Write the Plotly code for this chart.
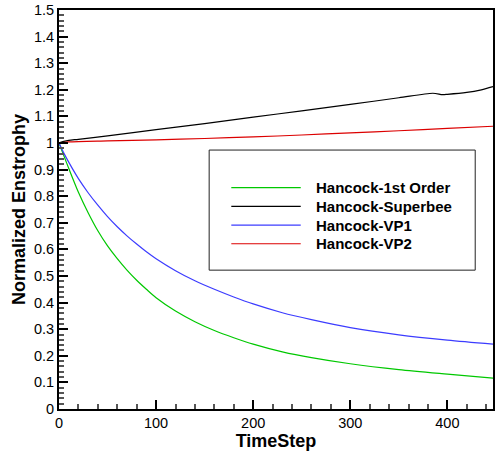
import plotly.graph_objects as go

# ---- data ----
t_decay = [0, 5, 10, 20, 30, 40, 50, 60, 70, 80, 90, 100, 120, 140, 160, 180, 200,
           230, 260, 300, 350, 400, 447]
first_order = [1.0, 0.952, 0.905, 0.815, 0.738, 0.67, 0.613, 0.565, 0.522, 0.484, 0.45, 0.418,
               0.368, 0.328, 0.295, 0.268, 0.244, 0.215, 0.193, 0.17, 0.148, 0.131, 0.116]
vp1 = [1.0, 0.962, 0.928, 0.866, 0.813, 0.766, 0.723, 0.685, 0.651, 0.62, 0.591, 0.565,
       0.52, 0.482, 0.45, 0.421, 0.395, 0.362, 0.336, 0.306, 0.279, 0.259, 0.244]

t_sb = [0, 5, 10, 20, 50, 100, 150, 200, 250, 300, 350, 385, 395, 400, 420, 435, 447]
superbee = [1.0, 1.006, 1.01, 1.014, 1.027, 1.05, 1.073, 1.097, 1.121, 1.145, 1.170, 1.187,
            1.182, 1.183, 1.19, 1.2, 1.212]

t_vp2 = [0, 10, 50, 100, 150, 200, 250, 300, 350, 400, 447]
vp2 = [1.0, 1.004, 1.008, 1.012, 1.017, 1.023, 1.03, 1.038, 1.046, 1.055, 1.063]

names = ["Hancock-1st Order", "Hancock-Superbee", "Hancock-VP1", "Hancock-VP2"]
colors = ["#00c800", "#000000", "#3c3cff", "#dc0000"]

fig = go.Figure()
series = [(t_decay, first_order), (t_sb, superbee), (t_decay, vp1), (t_vp2, vp2)]
for (x, y), n, c in zip(series, names, colors):
    fig.add_trace(go.Scatter(x=x, y=y, mode="lines", name=n, showlegend=False,
                             line=dict(color=c, width=1.2, shape="spline", smoothing=0.8)))

font_fam = "Liberation Sans, Arial, sans-serif"
axis_common = dict(
    showline=True, linecolor="black", linewidth=2, mirror=True,
    ticks="inside", ticklen=9, tickwidth=2, tickcolor="black",
    showgrid=False, zeroline=False,
    tickfont=dict(family=font_fam, size=14.5, color="black"),
)

fig.update_xaxes(range=[0, 447], dtick=100, tick0=0,
                 minor=dict(ticks="inside", dtick=20, ticklen=5, tickwidth=1.5, tickcolor="#555"),
                 title=dict(text="TimeStep", standoff=0,
                            font=dict(family=font_fam, size=18, color="black", weight="bold")),
                 **axis_common)
fig.update_yaxes(range=[0, 1.5], dtick=0.1, tick0=0,
                 minor=dict(ticks="inside", dtick=0.02, ticklen=5, tickwidth=1.5, tickcolor="#555"),
                 title=dict(text="Normalized Enstrophy", standoff=4,
                            font=dict(family=font_fam, size=18, color="black", weight="bold")),
                 **axis_common)

# ---- legend box (drawn as layout decoration, paper coordinates) ----
fig.add_shape(type="rect", xref="paper", yref="paper",
              x0=0.346, x1=0.959, y0=0.348, y1=0.649,
              line=dict(color="#222", width=1), fillcolor="rgba(0,0,0,0)", layer="below")
leg_top, leg_step = 0.5546, 0.0468
for i, (n, c) in enumerate(zip(names, colors)):
    yy = leg_top - i * leg_step
    fig.add_shape(type="line", xref="paper", yref="paper", x0=0.397, x1=0.557, y0=yy, y1=yy,
                  line=dict(color=c, width=1.2))
    fig.add_annotation(xref="paper", yref="paper", x=0.587, y=yy, xanchor="left", yanchor="middle",
                       text=n, showarrow=False,
                       font=dict(family=font_fam, size=15, color="black", weight="bold"))

fig.update_layout(
    width=497, height=453,
    margin=dict(l=59, r=2, t=10, b=44),
    paper_bgcolor="white", plot_bgcolor="white",
    showlegend=False,
)

fig.write_html("out.html")
